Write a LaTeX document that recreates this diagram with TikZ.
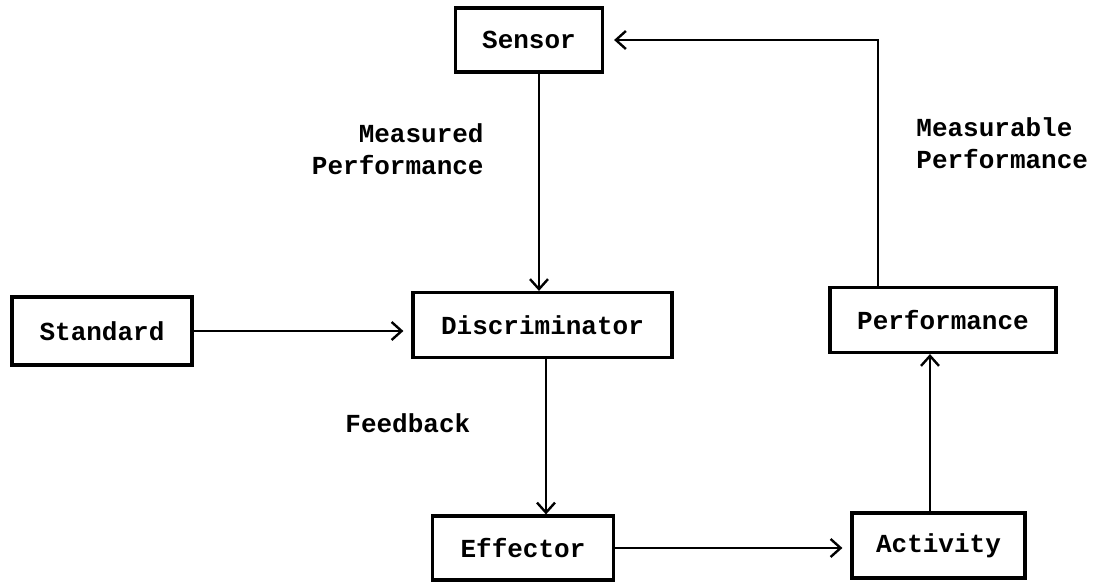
\documentclass[tikz,border=0pt]{standalone}
\usepackage{fontspec}
\setmonofont{Liberation Mono}
\usetikzlibrary{arrows.meta}
\begin{document}
\begin{tikzpicture}[x=0.5pt,y=-0.5pt,
  box/.style={draw,line width=1.6pt,inner sep=0pt,font=\ttfamily\bfseries\fontsize{13}{15}\selectfont},
  lbl/.style={inner sep=0pt,font=\ttfamily\bfseries\fontsize{13}{16}\selectfont},
  arr/.style={line width=1.2pt,-{Straight Barb[length=5pt,width=9pt,line width=1.2pt]}},
  lin/.style={line width=1.2pt}]
\useasboundingbox (0,0) rectangle (1100,583);
% blocks
\node[box,minimum width=73.5pt,minimum height=32pt] (sensor) at (529,40) {Sensor};
\node[box,minimum width=90pt,minimum height=34pt] (standard) at (102,331) {Standard};
\node[box,minimum width=129.5pt,minimum height=32.5pt] (disc) at (542.5,325) {Discriminator};
\node[box,minimum width=113pt,minimum height=32.5pt] (perf) at (943,320) {Performance};
\node[box,minimum width=90.5pt,minimum height=32pt] (effector) at (523,548) {Effector};
\node[box,minimum width=86.5pt,minimum height=32.5pt] (activity) at (938.5,545.5) {Activity};
% vertical line positions
\coordinate (c1) at (539,0);
\coordinate (c2) at (546,0);
\coordinate (c3) at (878,0);
\coordinate (c4) at (930,0);
% connectors
\draw[arr] (sensor.south -| c1) -- (disc.north -| c1);
\draw[arr,shorten >=4pt] (standard.east) -- (disc.west |- standard.east);
\draw[arr] (disc.south -| c2) -- (effector.north -| c2);
\draw[arr,shorten >=4pt] (effector.east) -- (activity.west |- effector.east);
\draw[arr] (activity.north -| c4) -- (perf.south -| c4);
\draw[arr,shorten >=5pt] (perf.north -| c3) |- (sensor.east);
% labels
\node[lbl,align=right,anchor=east] (mp) at (484,149) {Measured\\Performance};
\node[lbl,align=left,anchor=west] (mbp) at (916,143) {Measurable\\Performance};
\node[lbl,anchor=west] (fb) at (345,423) {Feedback};
\end{tikzpicture}
\end{document}
